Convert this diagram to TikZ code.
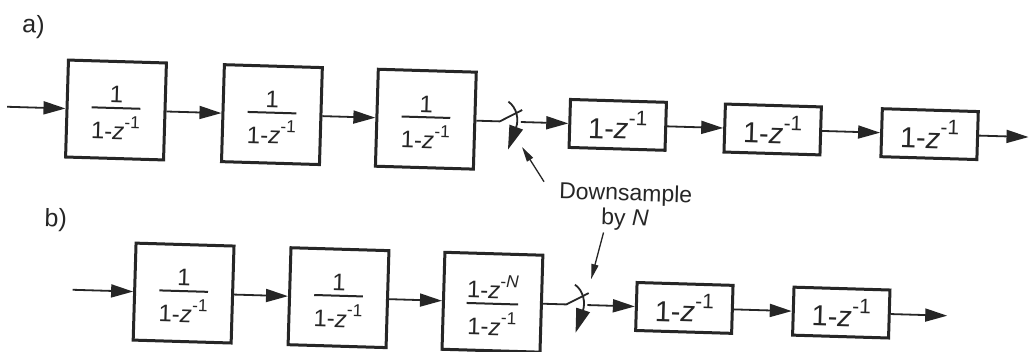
\documentclass[tikz,border=0pt]{standalone}
\usepackage{fontspec}
\usepackage{graphicx}
\setmainfont{Liberation Sans}
\usetikzlibrary{arrows.meta}
\definecolor{ink}{RGB}{38,38,38}
% raised exponent, about three quarters of the running size
\newcommand\zexp[1]{\raisebox{0.48em}{\scalebox{0.72}{#1}}}
% 1 - z^{-k}
\newcommand\zinv[1]{1-\textit{z}\zexp{-#1}}
% stacked fraction with a heavy rule as wide as the wider line
\newcommand\stackfrac[2]{\vbox{\offinterlineskip\kern6pt\halign{\hfil##\hfil\cr #1\cr
  \noalign{\kern4pt\hrule height 2pt\kern7pt}#2\cr}}}
\tikzset{
  blk/.style={draw=ink, line width=3pt, inner sep=0pt, text=ink},
  fracblk/.style={blk, minimum width=98pt, minimum height=97pt,
    font=\fontsize{24}{28}\selectfont},
  diffblk/.style={blk, minimum width=96pt, minimum height=48pt,
    font=\fontsize{29}{34}\selectfont},
  wire/.style={draw=ink, line width=1.8pt},
  conn/.style={wire, -{Triangle[length=22pt,width=13pt]}},
  swarrow/.style={wire, -{Triangle[length=24pt,width=14pt]}},
  ptr/.style={draw=ink, line width=1.3pt, -{Triangle[length=15pt,width=7pt]}},
  lbl/.style={text=ink, font=\fontsize{25}{28}\selectfont},
}
\begin{document}
\begin{tikzpicture}[x=1pt,y=-1pt]
\path[use as bounding box, fill=white] (0,0) rectangle (1029,352);
\begin{scope}[shift={(116,110)}, rotate=-1.7, transform shape]
  % labels
  \node[lbl] (la) at (-85,-81) {a)};
  \node[lbl] (lb) at (-57,112) {b)};
  \node[lbl, align=center, font=\fontsize{23}{25}\selectfont] (ds) at (512,82)
    {Downsample\\by \textit{N}};

  % row a: three integrators, downsampler, three differentiators
  \coordinate (ina) at (-109,0);
  \node[fracblk] (a1) at (0,0)   {\stackfrac{1}{\zinv1}};
  \node[fracblk] (a2) at (156,0) {\stackfrac{1}{\zinv1}};
  \node[fracblk] (a3) at (310,0) {\stackfrac{1}{\zinv1}};
  \coordinate (sa) at (384,0);
  \coordinate (sao) at (405,0);
  \node[diffblk] (a4) at (502,0) {\zinv1};
  \node[diffblk] (a5) at (657,0) {\zinv1};
  \node[diffblk] (a6) at (814,0) {\zinv1};
  \coordinate (outa) at (913,0);

  \draw[conn] (ina) -- (a1.west);
  \draw[conn] (a1.east) -- (a2.west);
  \draw[conn] (a2.east) -- (a3.west);
  \draw[wire, line join=round] (a3.east) -- (sa) -- ++(22,-12);
  \draw[swarrow] ([shift={(8,-20)}]sa) .. controls ([shift={(17,-14)}]sa)
    and ([shift={(19,-2)}]sa) .. ([shift={(9,28)}]sa);
  \draw[conn] (sao) -- (a4.west);
  \draw[conn] (a4.east) -- (a5.west);
  \draw[conn] (a5.east) -- (a6.west);
  \draw[conn] (a6.east) -- (outa);

  % row b: merged comb, downsampler, two differentiators
  \coordinate (inb) at (-38,181);
  \node[fracblk] (b1) at (73,181)  {\stackfrac{1}{\zinv1}};
  \node[fracblk] (b2) at (228,181) {\stackfrac{1}{\zinv1}};
  \node[fracblk] (b3) at (382,181) {\stackfrac{\zinv{\textit{N}}}{\zinv1}};
  \coordinate (sb) at (456,181);
  \coordinate (sbo) at (477,181);
  \node[diffblk] (b4) at (574,181) {\zinv1};
  \node[diffblk] (b5) at (731,181) {\zinv1};
  \coordinate (outb) at (837,181);

  \draw[conn] (inb) -- (b1.west);
  \draw[conn] (b1.east) -- (b2.west);
  \draw[conn] (b2.east) -- (b3.west);
  \draw[wire, line join=round] (b3.east) -- (sb) -- ++(22,-12);
  \draw[swarrow] ([shift={(8,-20)}]sb) .. controls ([shift={(17,-14)}]sb)
    and ([shift={(19,-2)}]sb) .. ([shift={(10,28)}]sb);
  \draw[conn] (sbo) -- (b4.west);
  \draw[conn] (b4.east) -- (b5.west);
  \draw[conn] (b5.east) -- (outb);

  % pointers from the label to both switches
  \coordinate (pa0) at (430,59);
  \coordinate (pa1) at (407,25);
  \coordinate (pb0) at (491,108);
  \coordinate (pb1) at (480,155);
  \draw[ptr] (pa0) -- (pa1);
  \draw[ptr] (pb0) -- (pb1);
\end{scope}
\end{tikzpicture}
\end{document}
